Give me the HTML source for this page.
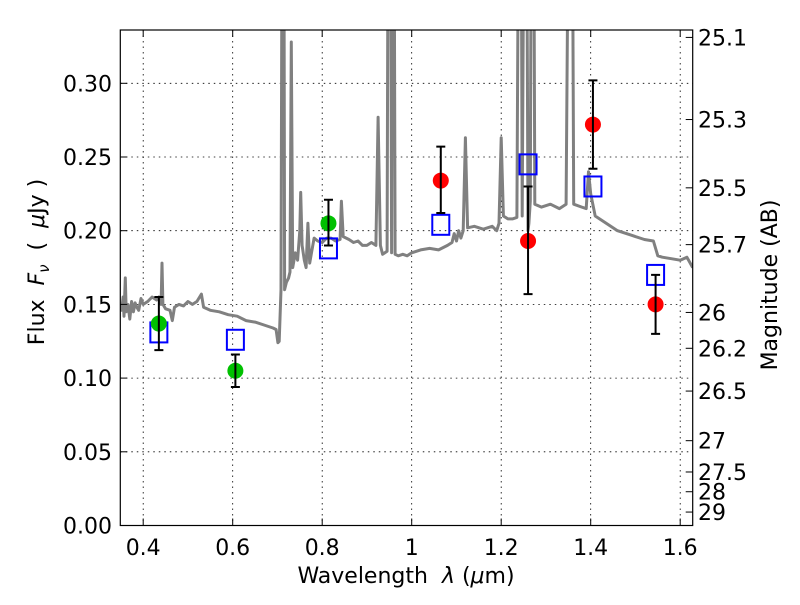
<!DOCTYPE html>
<html><head><meta charset="utf-8"><style>
body{margin:0;background:#fff;}
svg text{font-family:"DejaVu Sans","Liberation Sans",sans-serif;fill:#000;}
</style></head><body>
<svg id="chart" width="800" height="600" xmlns="http://www.w3.org/2000/svg">
<defs><clipPath id="clip"><rect x="120.3" y="30" width="572.4" height="495.5"/></clipPath></defs>
<rect x="0" y="0" width="800" height="600" fill="#fff"/>
<g id="grid"></g>
<g id="spec" clip-path="url(#clip)"></g>
<g id="marks"></g>
<rect x="120.3" y="30" width="572.4" height="495.5" fill="none" stroke="#000" stroke-width="1.2"/>
<g id="axes"></g>
<text x="406" y="583" font-size="22" text-anchor="middle" style="white-space:pre">Wavelength  <tspan font-style="italic">λ</tspan> (<tspan font-style="italic">μ</tspan>m)</text>
<text transform="translate(44,262) rotate(-90)" font-size="22" text-anchor="middle" style="white-space:pre">Flux  <tspan font-style="italic">F</tspan><tspan font-style="italic" font-size="15" dy="5">ν</tspan><tspan dy="-5">  (  </tspan><tspan font-style="italic">μ</tspan>Jy )</text>
<text transform="translate(777,285) rotate(-90)" font-size="22" text-anchor="middle">Magnitude (AB)</text>
</svg>
<script>
const xTicks=[0.4,0.6,0.8,1,1.2,1.4,1.6];
const xTickLabels=["0.4","0.6","0.8","1","1.2","1.4","1.6"];
const yTicks=[0,0.05,0.1,0.15,0.2,0.25,0.3];
const yTickLabels=["0.00","0.05","0.10","0.15","0.20","0.25","0.30"];
const magTicks=[25.1,25.3,25.5,25.7,26,26.2,26.5,27,27.5,28,29];
const magTickLabels=["25.1","25.3","25.5","25.7","26","26.2","26.5","27","27.5","28","29"];
const greenLam=[0.435,0.606,0.814];
const greenFlux=[0.137,0.105,0.205];
const greenLo=[0.119,0.094,0.190];
const greenHi=[0.155,0.116,0.221];
const redLam=[1.065,1.26,1.405,1.545];
const redFlux=[0.234,0.193,0.272,0.150];
const redLo=[0.212,0.157,0.242,0.130];
const redHi=[0.257,0.230,0.302,0.170];
const modelLam=[0.435,0.606,0.814,1.065,1.26,1.405,1.545];
const modelFlux=[0.131,0.126,0.188,0.204,0.245,0.230,0.170];
const specLam=[0.350,0.352,0.355,0.357,0.360,0.362,0.366,0.370,0.374,0.378,0.382,0.386,0.390,0.395,0.400,0.410,0.420,0.430,0.435,0.440,0.442,0.444,0.450,0.460,0.465,0.470,0.480,0.490,0.500,0.510,0.520,0.530,0.535,0.550,0.570,0.590,0.610,0.630,0.650,0.670,0.690,0.697,0.701,0.704,0.708,0.711,0.714,0.716,0.720,0.725,0.728,0.731,0.734,0.740,0.745,0.750,0.752,0.755,0.760,0.764,0.768,0.772,0.776,0.782,0.790,0.800,0.810,0.820,0.830,0.840,0.843,0.847,0.860,0.870,0.880,0.890,0.900,0.910,0.920,0.925,0.930,0.935,0.945,0.948,0.952,0.955,0.957,0.960,0.963,0.970,0.980,0.990,1.000,1.020,1.040,1.060,1.080,1.090,1.095,1.100,1.105,1.110,1.115,1.120,1.125,1.140,1.160,1.180,1.190,1.195,1.200,1.205,1.215,1.225,1.235,1.240,1.244,1.247,1.252,1.256,1.260,1.262,1.265,1.268,1.272,1.275,1.290,1.310,1.330,1.345,1.352,1.358,1.362,1.380,1.390,1.395,1.400,1.410,1.430,1.460,1.490,1.520,1.540,1.550,1.560,1.580,1.600,1.615,1.628];
const specFlux=[0.150,0.146,0.155,0.142,0.168,0.145,0.150,0.140,0.152,0.145,0.151,0.148,0.146,0.154,0.150,0.152,0.155,0.153,0.155,0.150,0.178,0.150,0.147,0.146,0.139,0.148,0.150,0.149,0.152,0.150,0.152,0.157,0.148,0.146,0.145,0.143,0.142,0.139,0.138,0.136,0.134,0.133,0.124,0.125,0.160,0.5,0.5,0.160,0.165,0.168,0.172,0.328,0.175,0.185,0.180,0.200,0.226,0.190,0.180,0.175,0.205,0.178,0.185,0.195,0.193,0.192,0.195,0.195,0.193,0.194,0.220,0.196,0.194,0.192,0.193,0.190,0.190,0.192,0.190,0.277,0.190,0.184,0.186,0.5,0.5,0.185,0.5,0.5,0.184,0.183,0.184,0.183,0.185,0.187,0.188,0.187,0.190,0.192,0.198,0.193,0.200,0.195,0.200,0.263,0.202,0.203,0.201,0.203,0.200,0.205,0.263,0.210,0.208,0.208,0.209,0.5,0.5,0.210,0.5,0.5,0.200,0.205,0.220,0.5,0.5,0.218,0.216,0.218,0.215,0.218,0.5,0.5,0.218,0.216,0.215,0.240,0.225,0.210,0.206,0.200,0.197,0.194,0.193,0.183,0.182,0.181,0.180,0.182,0.175];

const NS="http://www.w3.org/2000/svg";
const X0=120.3,X1=692.7,Y0=525.5;
function xs(l){return 411.7+(l-1)*447.5;}
function ys(f){return Y0-f*1474;}
function mk(tag,attrs,parent){const e=document.createElementNS(NS,tag);for(const k in attrs)e.setAttribute(k,attrs[k]);parent.appendChild(e);return e;}
const grid=document.getElementById('grid'),axes=document.getElementById('axes'),spec=document.getElementById('spec'),marks=document.getElementById('marks');

xTicks.forEach((t,i)=>{const x=xs(t);
 let g=mk('line',{x1:x,x2:x,y1:30,y2:Y0,stroke:'#000','stroke-width':0.8,'stroke-dasharray':'1.5,4'},grid);
 
 
 let a=mk('line',{x1:x,x2:x,y1:Y0,y2:Y0-7,stroke:'#000','stroke-width':1},axes);
 
 
 let b=mk('line',{x1:x,x2:x,y1:30,y2:37,stroke:'#000','stroke-width':1},axes);
 
 
 let tx=mk('text',{x:x,y:555,'font-size':22,'text-anchor':'middle'},axes);tx.textContent=xTickLabels[i];
 
 
});
yTicks.forEach((t,i)=>{const y=ys(t);
 let g=mk('line',{x1:X0,x2:X1,y1:y,y2:y,stroke:'#000','stroke-width':0.8,'stroke-dasharray':'1.5,4'},grid);
 
 
 let a=mk('line',{x1:X0,x2:X0+7,y1:y,y2:y,stroke:'#000','stroke-width':1},axes);
 
 
 let tx=mk('text',{x:112,y:y+8,'font-size':22,'text-anchor':'end'},axes);tx.textContent=yTickLabels[i];
 
 
});
magTicks.forEach((m,i)=>{const f=Math.pow(10,(23.9-m)/2.5);const y=ys(f);
 let a=mk('line',{x1:X1,x2:X1-7,y1:y,y2:y,stroke:'#000','stroke-width':1},axes);
 
 
 let tx=mk('text',{x:698,y:y+8,'font-size':22,'text-anchor':'start'},axes);tx.textContent=magTickLabels[i];
 
 
});

let d=specLam.map((l,i)=>(i?'L':'M')+xs(l).toFixed(1)+','+ys(specFlux[i]).toFixed(1)).join(' ');
let p=mk('path',{d:d,fill:'none',stroke:'#808080','stroke-width':3,'stroke-linejoin':'round'},spec);



function errbar(l,lo,hi){const x=xs(l);
 let e=mk('path',{d:`M${x},${ys(lo)}L${x},${ys(hi)}M${x-4.5},${ys(lo)}L${x+4.5},${ys(lo)}M${x-4.5},${ys(hi)}L${x+4.5},${ys(hi)}`,stroke:'#000','stroke-width':2,fill:'none'},marks);
 
 
}
modelLam.forEach((l,i)=>{const x=xs(l),y=ys(modelFlux[i]);
 let r=mk('rect',{x:x-8.5,y:y-10,width:17,height:20,fill:'none',stroke:'#0000ff','stroke-width':2},marks);
 
 
});
greenLam.forEach((l,i)=>{
 let c=mk('circle',{cx:xs(l),cy:ys(greenFlux[i]),r:8,fill:'#00c000'},marks);
 
 
 errbar(l,greenLo[i],greenHi[i]);
});
redLam.forEach((l,i)=>{
 let c=mk('circle',{cx:xs(l),cy:ys(redFlux[i]),r:8,fill:'#ff0000'},marks);
 
 
 errbar(l,redLo[i],redHi[i]);
});
</script>
</body></html>
